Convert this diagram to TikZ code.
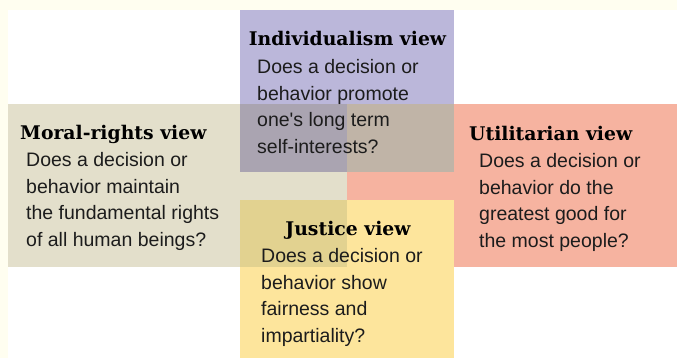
\documentclass[tikz,border=0pt]{standalone}
\usepackage{fontspec}
\setmainfont{Liberation Sans}[Ligatures=TeXOff]
\newfontfamily\headfont{DejaVu Serif}
\definecolor{cream}{HTML}{FFFEF0}
\definecolor{lavender}{HTML}{BBB7DA}
\definecolor{sand}{HTML}{E3DFCB}
\definecolor{salmon}{HTML}{F6B3A0}
\definecolor{butter}{HTML}{FDE59C}
\definecolor{lavsand}{HTML}{AAA4B1}
\definecolor{lavsalmon}{HTML}{C0B4A7}
\definecolor{butsand}{HTML}{E2D290}
\definecolor{ink}{HTML}{1C1C1C}

\begin{document}
\begin{tikzpicture}[x=1pt,y=-1pt,
  head/.style={font=\headfont\bfseries\fontsize{18.8}{20}\selectfont, inner sep=0pt, text=black},
  body/.style={font=\fontsize{19.5}{26.7}\selectfont, align=left, anchor=north west, inner sep=0pt, text=ink}]
  \useasboundingbox (0,0) rectangle (677,358);
  \fill[cream] (0,0) rectangle (677,358);
  \fill[white] (8,10) rectangle (677,358);
  \fill[sand] (8,104) rectangle (347,267);
  \fill[salmon] (347,104) rectangle (677,267);
  \fill[lavender] (240,10) rectangle (454,172);
  \fill[butter] (240,200) rectangle (454,358);
  \fill[lavsand] (240,104) rectangle (347,172);
  \fill[lavsalmon] (347,104) rectangle (454,172);
  \fill[butsand] (240,200) rectangle (347,267);
  \node[head, anchor=base] (indhead) at (347.5,46) {Individualism view};
  \node[body] (indtext) at (257,59) {Does a decision or\\behavior promote\\one's long term\\self-interests?};
  \node[head, anchor=base west] (morhead) at (20,140) {Moral-rights view};
  \node[body] (mortext) at (26,152) {Does a decision or\\behavior maintain\\the fundamental rights\\of all human beings?};
  \node[head, anchor=base west] (utihead) at (469,141) {Utilitarian view};
  \node[body] (utitext) at (479,153) {Does a decision or\\behavior do the\\greatest good for\\the most people?};
  \node[head, anchor=base] (jushead) at (348,235) {Justice view};
  \node[body] (justext) at (261,248) {Does a decision or\\behavior show\\fairness and\\impartiality?};
\end{tikzpicture}
\end{document}
